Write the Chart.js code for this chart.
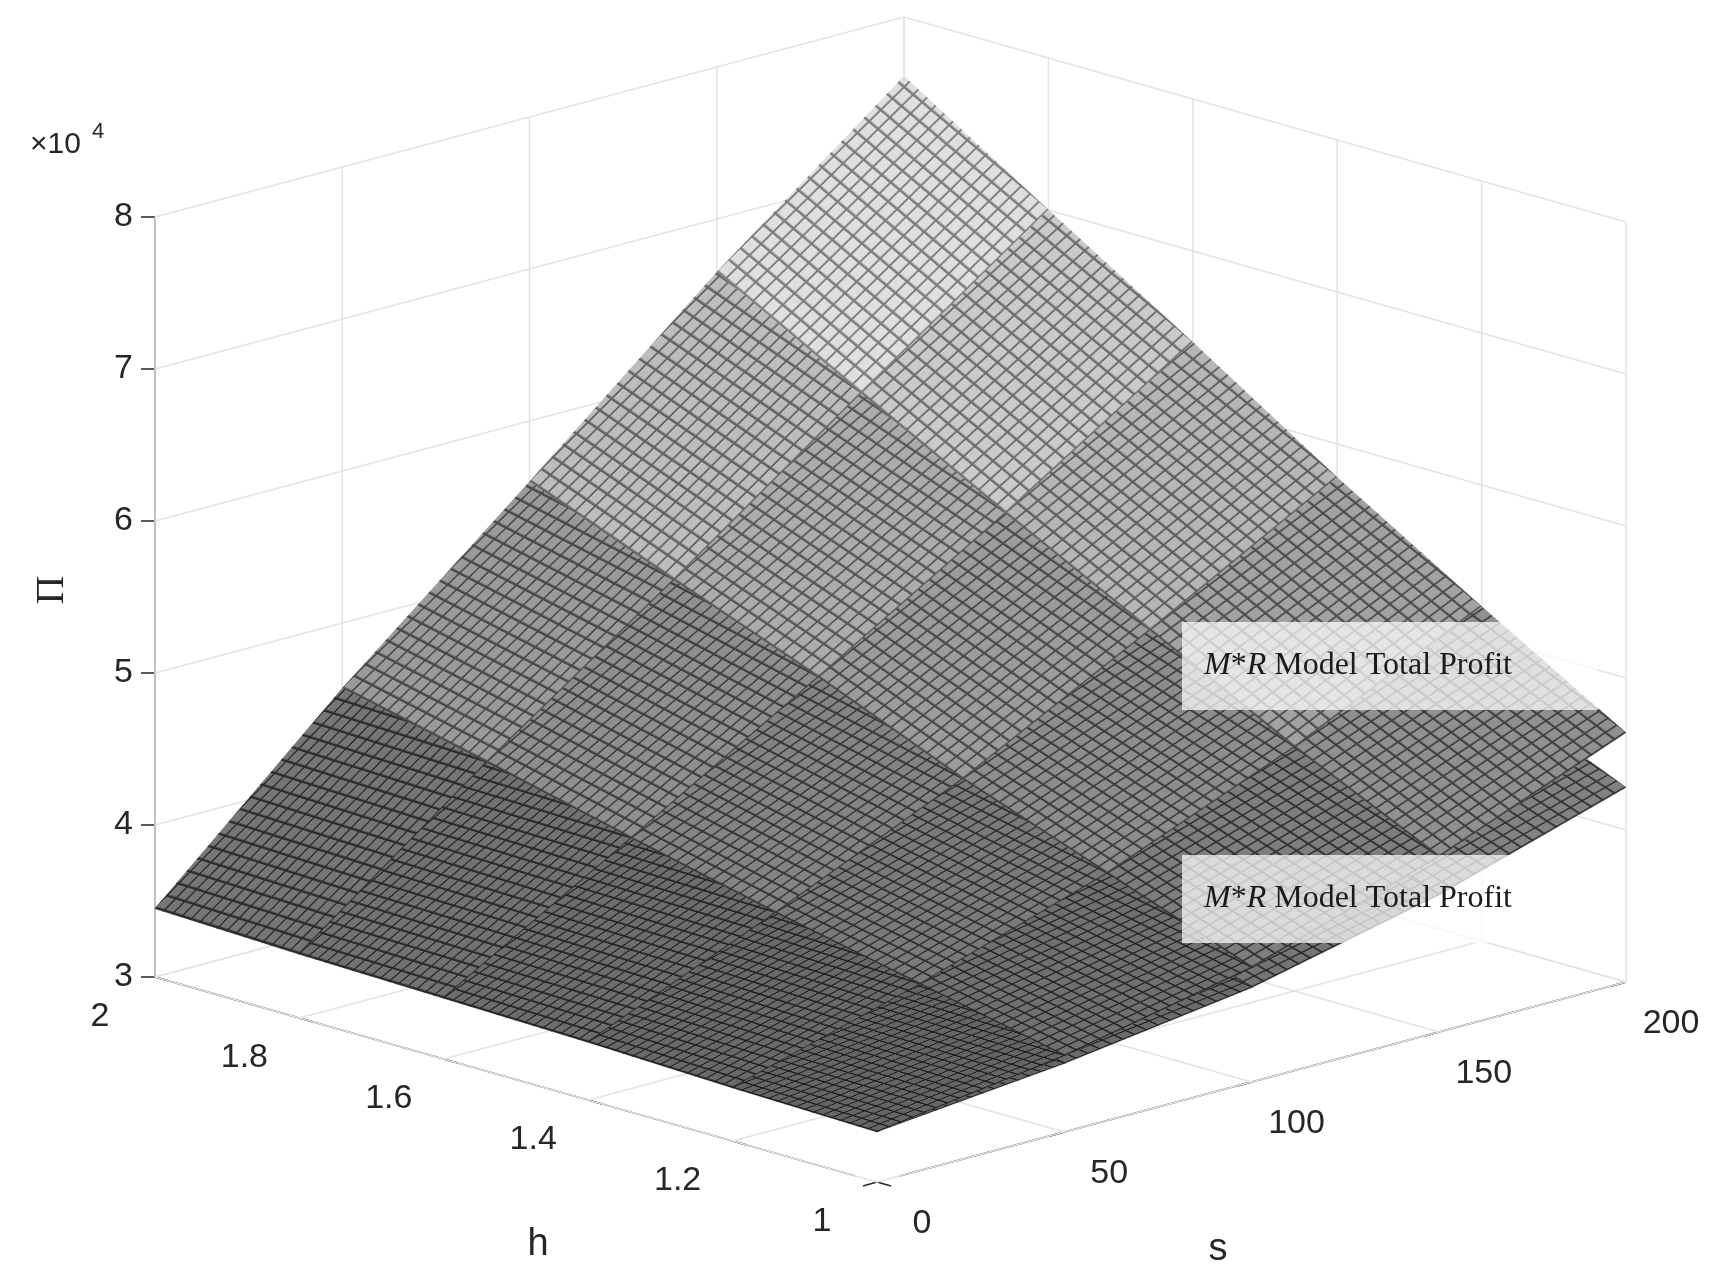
<!DOCTYPE html>
<html>
<head>
<meta charset="utf-8">
<script src="https://cdn.jsdelivr.net/npm/chart.js@4.4.1/dist/chart.umd.min.js"></script>
<style>body{margin:0;background:#fff}canvas{display:block}</style>
</head>
<body>
<canvas id="myChart" width="1732" height="1285"></canvas>
<script>
// grid values
const hVals = [1, 1.2, 1.4, 1.6, 1.8, 2]
const sVals = [0, 50, 100, 150, 200]
const zTicks = [3, 4, 5, 6, 7, 8]
const hTicks = [1, 1.2, 1.4, 1.6, 1.8, 2]
const sTicks = [0, 50, 100, 150, 200]
// rows = h, cols = s  (profit)
const upperProfit = [
  [33300, 35000, 37500, 41500, 46400],
  [33500, 37000, 41000, 46000, 52000],
  [33800, 39000, 44500, 51000, 57800],
  [34000, 41200, 48500, 56000, 64000],
  [34200, 43500, 52200, 61200, 70000],
  [34500, 45700, 56000, 66500, 76100]
]
const lowerProfit = [
  [33300, 34500, 36200, 39000, 42800],
  [33500, 36000, 39000, 42500, 47000],
  [33800, 37500, 41800, 46200, 51200],
  [34000, 39200, 44500, 50000, 55500],
  [34200, 40800, 47200, 53800, 60000],
  [34500, 42500, 50000, 57500, 64500]
]
const surfaceLabel = "Model Total Profit"

// simple fixed view: h grows to the upper-left, s to the upper-right
function proj(h, s, z) {
  return {
    x: 877 + (h - 1) * (-722) + s / 200 * 749,
    y: 1182 - (h - 1) * 205 - s / 200 * 200 - (z / 1e4 - 3) * 152
  }
}

var datasets = []
function addLine(pts, color, width) {
  datasets.push({data: pts, showLine: true, borderColor: color, borderWidth: width, pointRadius: 0, fill: false})
}
var gridCol = '#e3e3e3'
// back wall h = 2
zTicks.forEach(z => addLine([proj(2, 0, z * 1e4), proj(2, 200, z * 1e4)], gridCol, 1.5))
sTicks.forEach(s => addLine([proj(2, s, 3e4), proj(2, s, 8e4)], gridCol, 1.5))
// back wall s = 200
zTicks.forEach(z => addLine([proj(1, 200, z * 1e4), proj(2, 200, z * 1e4)], gridCol, 1.5))
hTicks.forEach(h => addLine([proj(h, 200, 3e4), proj(h, 200, 8e4)], gridCol, 1.5))
// floor
hTicks.forEach(h => addLine([proj(h, 0, 3e4), proj(h, 200, 3e4)], gridCol, 1.5))
sTicks.forEach(s => addLine([proj(1, s, 3e4), proj(2, s, 3e4)], gridCol, 1.5))
// axes
var axCol = '#262626'
addLine([proj(2, 0, 3e4), proj(2, 0, 8e4)], axCol, 1.5)
addLine([proj(2, 0, 3e4), proj(1.03, 0, 3e4)], axCol, 1.5)
addLine([proj(1, 6, 3e4), proj(1, 200, 3e4)], axCol, 1.5)
// ticks
zTicks.forEach(z => { var p = proj(2, 0, z * 1e4); addLine([p, {x: p.x - 14, y: p.y}], axCol, 1.5) })
hTicks.forEach(h => { var p = proj(h, 0, 3e4); addLine([p, {x: p.x + 14, y: p.y + 4}], axCol, 1.5) })
sTicks.forEach(s => { var p = proj(1, s, 3e4); addLine([p, {x: p.x - 14, y: p.y + 4}], axCol, 1.5) })

function meshPattern(ctx, z) {
  var t = Math.max(0, Math.min(1, (z - 33000) / 43000))
  var bg = Math.round(95 + t * 155), ln = Math.round(25 + t * 120)
  var c = document.createElement('canvas'); c.width = 16; c.height = 16
  var g = c.getContext('2d')
  g.fillStyle = 'rgb(' + bg + ',' + bg + ',' + bg + ')'; g.fillRect(0, 0, 16, 16)
  g.fillStyle = 'rgb(' + ln + ',' + ln + ',' + ln + ')'
  g.fillRect(0, 0, 16, 2.5); g.fillRect(0, 0, 2.5, 16)
  return ctx.createPattern(c, 'repeat')
}

function drawSurface(chart, grid) {
  var ctx = chart.ctx, xs = chart.scales.x, ys = chart.scales.y
  function px(h, s, z) { var p = proj(h, s, z); return {x: xs.getPixelForValue(p.x), y: ys.getPixelForValue(p.y)} }
  var quads = []
  for (var i = 0; i < hVals.length - 1; i++)
    for (var j = 0; j < sVals.length - 1; j++) quads.push([i, j])
  quads.sort((a, b) => (b[0] / 5 + b[1] / 4) - (a[0] / 5 + a[1] / 4))
  var n = 16
  quads.forEach(q => {
    var i = q[0], j = q[1]
    var a = px(hVals[i], sVals[j], grid[i][j])
    var b = px(hVals[i], sVals[j + 1], grid[i][j + 1])
    var c = px(hVals[i + 1], sVals[j + 1], grid[i + 1][j + 1])
    var d = px(hVals[i + 1], sVals[j], grid[i + 1][j])
    var zm = (grid[i][j] + grid[i][j + 1] + grid[i + 1][j] + grid[i + 1][j + 1]) / 4
    var pat = meshPattern(ctx, zm)
    var u = {x: (b.x - a.x) / n / 16, y: (b.y - a.y) / n / 16}
    var v = {x: (d.x - a.x) / n / 16, y: (d.y - a.y) / n / 16}
    pat.setTransform(new DOMMatrix([u.x, u.y, v.x, v.y, a.x, a.y]))
    ctx.save()
    ctx.beginPath(); ctx.moveTo(a.x, a.y); ctx.lineTo(b.x, b.y); ctx.lineTo(c.x, c.y); ctx.lineTo(d.x, d.y); ctx.closePath()
    ctx.fillStyle = pat; ctx.fill()
    ctx.lineWidth = 0.6; ctx.strokeStyle = pat; ctx.stroke()
    ctx.restore()
  })
}

const surfacePlugin = {
  id: 'surface',
  afterDatasetsDraw(chart) {
    drawSurface(chart, lowerProfit)
    drawSurface(chart, upperProfit)
  },
  afterDraw(chart) {
    var ctx = chart.ctx, xs = chart.scales.x, ys = chart.scales.y
    function px(h, s, z) { var p = proj(h, s, z); return {x: xs.getPixelForValue(p.x), y: ys.getPixelForValue(p.y)} }
    ctx.save()
    ctx.fillStyle = '#262626'
    ctx.font = '34px "Liberation Sans", Arial, sans-serif'
    ctx.textAlign = 'right'; ctx.textBaseline = 'middle'
    zTicks.forEach(z => { var p = px(2, 0, z * 1e4); ctx.fillText(String(z), p.x - 22, p.y) })
    ctx.textAlign = 'center'
    hTicks.forEach(h => { var p = px(h, 0, 3e4); ctx.fillText(String(h), p.x - 55, p.y + 40) })
    sTicks.forEach(s => { var p = px(1, s, 3e4); ctx.fillText(String(s), p.x + 45, p.y + 42) })
    ctx.font = '38px "Liberation Sans", Arial, sans-serif'
    ctx.fillText('h', 538, 1245)
    ctx.fillText('s', 1218, 1250)
    ctx.save(); ctx.translate(52, 590); ctx.rotate(-Math.PI / 2)
    ctx.font = '40px "Liberation Serif", serif'; ctx.fillText('\u03A0', 0, 0); ctx.restore()
    ctx.textAlign = 'left'
    ctx.font = '30px "Liberation Sans", Arial, sans-serif'
    ctx.fillText('\u00D710', 30, 145)
    ctx.font = '22px "Liberation Sans", Arial, sans-serif'
    ctx.fillText('4', 92, 132)
    // surface labels
    ;[[1182, 622], [1182, 855]].forEach(r => {
      ctx.fillStyle = 'rgba(255,255,255,0.72)'
      ctx.fillRect(r[0], r[1], 416, 88)
      ctx.fillStyle = '#1a1a1a'
      ctx.font = 'italic 32px "Liberation Serif", serif'
      var x = r[0] + 22, y = r[1] + 44
      ctx.fillText('M', x, y); x += ctx.measureText('M').width
      ctx.font = '32px "Liberation Serif", serif'
      ctx.fillText('*', x, y); x += ctx.measureText('*').width
      ctx.font = 'italic 32px "Liberation Serif", serif'
      ctx.fillText('R', x, y); x += ctx.measureText('R ').width
      ctx.font = '32px "Liberation Serif", serif'
      ctx.fillText(surfaceLabel, x, y)
    })
    ctx.restore()
  }
}

var chart = new Chart(document.getElementById('myChart').getContext('2d'), {
  type: 'scatter',
  data: {datasets: datasets},
  options: {
    responsive: false,
    devicePixelRatio: 1,
    animation: false,
    layout: {padding: 0},
    plugins: {legend: {display: false}, tooltip: {enabled: false}},
    scales: {
      x: {type: 'linear', min: 0, max: 1732, display: false},
      y: {type: 'linear', min: 0, max: 1285, reverse: true, display: false}
    }
  },
  plugins: [surfacePlugin]
})
</script>
</body>
</html>
